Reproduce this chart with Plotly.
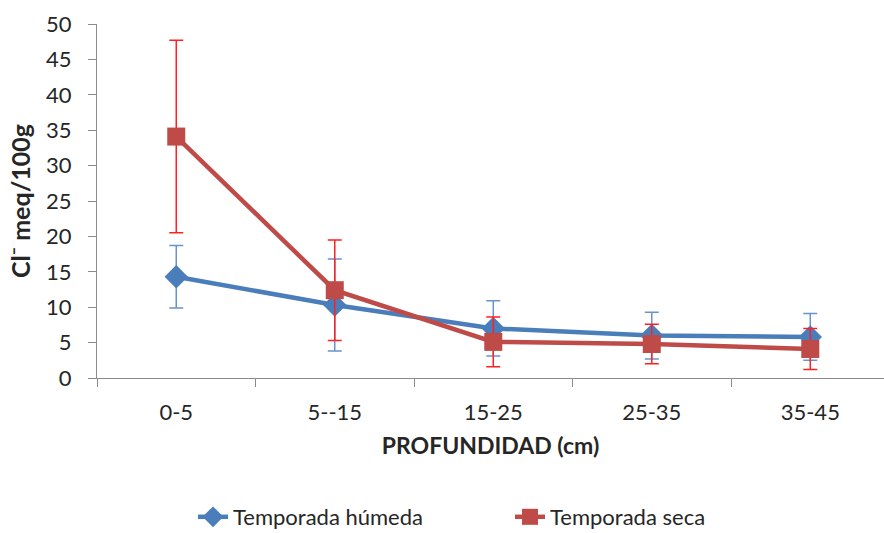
import plotly.graph_objects as go

# Depth classes and chloride content (Cl- meq/100g) with standard deviations
profundidad = ["0-5", "5--15", "15-25", "25-35", "35-45"]
humeda = [14.3, 10.3, 7.0, 6.0, 5.8]
humeda_err = [4.4, 6.5, 3.9, 3.3, 3.3]
seca = [34.1, 12.4, 5.1, 4.8, 4.1]
seca_err = [13.6, 7.1, 3.5, 2.8, 2.9]
y_ticks = [0, 5, 10, 15, 20, 25, 30, 35, 40, 45, 50]

FONT = "Lato, 'Open Sans', sans-serif"
TXT = "#262626"

fig = go.Figure()
fig.add_trace(go.Scatter(
    x=profundidad, y=humeda, name="Temporada húmeda",
    mode="lines+markers",
    line=dict(color="#4A7EBB", width=4.5),
    marker=dict(symbol="diamond", size=18, color="#4A7EBB"),
    error_y=dict(type="data", array=humeda_err, visible=True,
                 color="#6A93CC", thickness=1.5, width=7),
))
fig.add_trace(go.Scatter(
    x=profundidad, y=seca, name="Temporada seca",
    mode="lines+markers",
    line=dict(color="#BE4B48", width=4.5),
    marker=dict(symbol="square", size=18, color="#BE4B48"),
    error_y=dict(type="data", array=seca_err, visible=True,
                 color="#FF2020", thickness=1.5, width=7),
))

fig.update_layout(
    width=884, height=533,
    margin=dict(l=97, r=0, t=24, b=155),
    paper_bgcolor="white", plot_bgcolor="white",
    font=dict(family=FONT, size=22, color=TXT),
    showlegend=True,
    legend=dict(orientation="h", x=0.122, xanchor="left",
                yref="container", y=1 - 517 / 533, yanchor="middle",
                font=dict(family=FONT, size=22, color=TXT),
                entrywidth=272, entrywidthmode="pixels",
                tracegroupgap=0),
)
fig.update_xaxes(
    type="category", range=[-0.5, 4.465], automargin=False,
    showline=True, linecolor="#8C8C8C", linewidth=1.3,
    ticks="outside", tickson="boundaries", ticklen=8,
    tickcolor="#8C8C8C", tickwidth=1.3,
    showgrid=False, zeroline=False,
    tickfont=dict(size=22, color=TXT), ticklabelstandoff=14,
    title=dict(text="<b>PROFUNDIDAD (cm)</b>", font=dict(size=23, color=TXT),
               standoff=14),
)
fig.update_yaxes(
    range=[0, 50], tickvals=y_ticks, automargin=False,
    showline=True, linecolor="#8C8C8C", linewidth=1.3,
    ticks="outside", ticklen=8, tickcolor="#8C8C8C", tickwidth=1.3,
    showgrid=False, zeroline=False,
    tickfont=dict(size=22, color=TXT), ticklabelstandoff=12,
    title=dict(text="<b>Cl⁻ meq/100g</b>", font=dict(size=25, color=TXT),
               standoff=8),
)

fig.write_html("out.html")
